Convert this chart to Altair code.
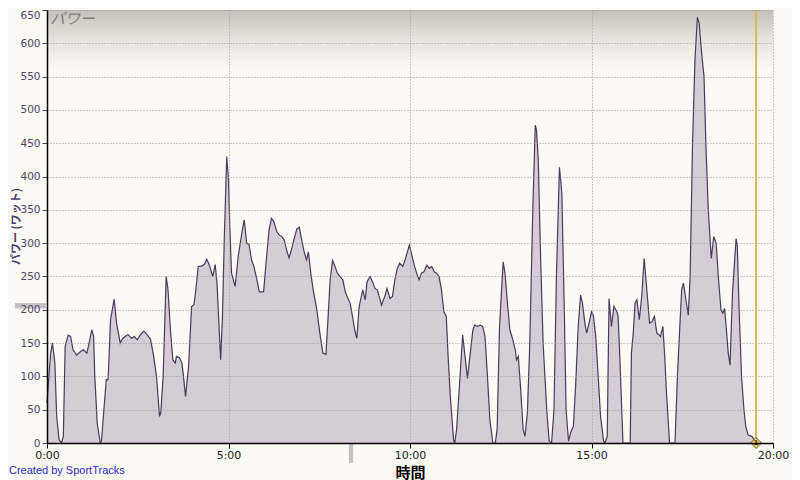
import altair as alt
import pandas as pd

# elapsed time (seconds) and power (watts)
time_s = [
    0, 6, 9, 13, 16, 20, 24, 27, 30, 35,
    39, 43, 49, 55, 60, 66, 70, 74, 77, 79,
    83, 88, 90, 94, 98, 101, 105, 111, 115, 121,
    125, 129, 134, 140, 144, 149, 154, 160, 166, 171,
    176, 181, 186, 188, 192, 197, 200, 204, 208, 212,
    214, 219, 223, 225, 229, 234, 239, 243, 246, 250,
    256, 260, 264, 268, 274, 278, 281, 287, 290, 293,
    297, 300, 302, 305, 311, 316, 322, 326, 330, 334,
    338, 342, 347, 351, 358, 363, 367, 371, 375, 380,
    384, 388, 392, 396, 400, 404, 408, 413, 417, 421,
    425, 429, 432, 436, 440, 446, 451, 456, 461, 465,
    468, 472, 476, 480, 484, 489, 493, 496, 501, 505,
    509, 512, 516, 522, 526, 529, 534, 538, 542, 546,
    553, 559, 562, 567, 571, 575, 579, 583, 588, 592,
    595, 599, 603, 607, 611, 615, 619, 623, 628, 632,
    636, 640, 644, 648, 652, 656, 660, 663, 667, 672,
    674, 677, 682, 687, 691, 695, 699, 704, 707, 711,
    716, 720, 724, 728, 732, 737, 741, 744, 748, 752,
    754, 757, 761, 765, 770, 774, 776, 779, 783, 787,
    790, 794, 798, 803, 807, 809, 812, 816, 820, 826,
    830, 834, 838, 842, 847, 851, 855, 858, 862, 866,
    870, 874, 878, 882, 885, 889, 892, 896, 900, 903,
    907, 911, 915, 920, 922, 926, 929, 933, 937, 942,
    944, 947, 950, 952, 964, 966, 969, 972, 975, 979,
    983, 987, 991, 996, 1000, 1004, 1008, 1012, 1014, 1018,
    1021, 1024, 1029, 1038, 1042, 1046, 1049, 1052, 1056, 1060,
    1063, 1067, 1071, 1075, 1078, 1082, 1086, 1089, 1093, 1098,
    1102, 1106, 1110, 1114, 1117, 1120, 1123, 1126, 1129, 1133,
    1139, 1141, 1144, 1148, 1152, 1155, 1159, 1165, 1169, 1172,
]
power_w = [
    60, 135, 150, 120, 40, 5, 0, 10, 145, 162,
    160, 140, 132, 137, 140, 135, 152, 170, 160, 100,
    30, 0, 3, 50, 95, 95, 185, 216, 180, 150,
    157, 160, 163, 157, 160, 155, 162, 168, 162, 156,
    132, 100, 40, 45, 100, 250, 230, 170, 125, 120,
    130, 128, 120, 105, 70, 115, 205, 208, 230, 265,
    266, 268, 276, 268, 250, 268, 240, 125, 190, 305,
    430, 395, 330, 255, 235, 280, 315, 335, 300, 298,
    275, 265, 245, 227, 227, 280, 320, 337, 332, 317,
    312, 310, 305, 290, 278, 290, 305, 321, 324, 305,
    287, 275, 287, 255, 230, 200, 165, 135, 133, 195,
    245, 274, 265, 255, 250, 245, 227, 220, 210, 190,
    168, 157, 205, 230, 215, 242, 250, 242, 232, 230,
    207, 222, 232, 217, 220, 245, 262, 270, 265, 275,
    285, 297, 282, 267, 255, 245, 255, 257, 267, 262,
    265, 257, 255, 250, 230, 197, 190, 130, 65, 5,
    0, 20, 90, 162, 130, 97, 130, 170, 177, 175,
    177, 175, 160, 100, 35, 0, 0, 20, 175, 240,
    272, 255, 210, 170, 155, 140, 125, 130, 80, 20,
    10, 45, 150, 350, 477, 470, 425, 275, 150, 50,
    3, 0, 50, 250, 414, 375, 200, 50, 3, 17,
    25, 90, 175, 222, 210, 180, 165, 180, 197, 192,
    160, 100, 40, 3, 0, 10, 217, 175, 205, 197,
    190, 125, 50, 0, 0, 135, 165, 210, 215, 185,
    220, 277, 235, 180, 182, 190, 165, 162, 160, 175,
    130, 75, 0, 0, 100, 175, 230, 240, 215, 192,
    250, 450, 575, 639, 630, 585, 550, 450, 350, 277,
    310, 300, 245, 200, 195, 202, 170, 135, 117, 225,
    307, 295, 200, 100, 50, 25, 12, 10, 5, 0,
]
x_ticks = [0, 300, 600, 900, 1200]
y_ticks = [0, 50, 100, 150, 200, 250, 300, 350, 400, 450, 500, 550, 600, 650]
marker_time_s = [1172]
marker_label = ["1"]
avg_power_lo_hi = [202, 210]
avg_time_lo_hi = [499, 506]

W, H = 726, 433
BG = "#fbfaf4"

df = pd.DataFrame({"t": time_s, "p": power_w})
x_scale = alt.Scale(domain=[0, 1200], nice=False, zero=False)
y_scale = alt.Scale(domain=[0, 650], nice=False)

x_axis = alt.Axis(
    values=x_ticks, labelExpr="floor(datum.value/60) + ':00'",
    title="時間", titleFont="Noto Sans CJK JP", titleFontSize=15,
    titleFontWeight="bold", titleColor="#000000",
    titleY=29, titleBaseline="middle",
    labelFont="DejaVu Sans", labelFontSize=11, labelColor="#222222",
    labelPadding=1, tickColor="#000000", tickSize=5, domainColor="#000000",
    domainWidth=1.5, gridColor="#9a9a9a", gridDash=[1, 2], zindex=1,
    labelFlush=False, labelOverlap=False,
)
y_axis = alt.Axis(
    values=y_ticks, title="パワー (ワット)",
    titleFont="Noto Sans CJK JP", titleFontSize=11, titleFontWeight="bold",
    titleColor="#4b3a6a", titleX=-31, titleY=216, titleAngle=-90,
    titleBaseline="middle", titleAlign="center",
    labelFont="DejaVu Sans", labelFontSize=10.5, labelColor="#4e4468",
    labelBaseline=alt.condition("datum.value == 650", alt.value("top"), alt.value("middle")),
    labelPadding=2, tickColor="#4e4468", tickSize=5, domainColor="#000000",
    domainWidth=1.5, gridColor="#9a9a9a", gridDash=[1, 2], zindex=1,
    labelFlush=False, labelOverlap=False,
)

one = pd.DataFrame({"a": [0]})

grad = alt.Chart(one).mark_rect(
    color=alt.Gradient(
        gradient="linear",
        stops=[alt.GradientStop(color="#c4c0b8", offset=0),
               alt.GradientStop(color="#e4e1da", offset=0.45),
               alt.GradientStop(color=BG, offset=1)],
        x1=0, x2=0, y1=0, y2=1,
    )
).encode(x=alt.value(0), x2=alt.value(W), y=alt.value(0), y2=alt.value(60))

X = lambda f: alt.X(f, scale=x_scale, axis=x_axis)
Y = lambda f: alt.Y(f, scale=y_scale, axis=y_axis)

area = alt.Chart(df).mark_area(
    color="#d6ccd7", opacity=1,
    line={"color": "#4a3a5c", "strokeWidth": 1.2},
).encode(x=X("t:Q"), y=Y("p:Q"))

mk = pd.DataFrame({"t": marker_time_s, "p": [0], "lab": marker_label})
rule = alt.Chart(mk).mark_rule(color="#d9bb4c", strokeWidth=2).encode(x=X("t:Q"))
diamond = alt.Chart(mk).mark_point(
    shape="diamond", filled=True, size=120, color="#f2d35c",
    stroke="#6e5d1e", strokeWidth=1, opacity=1,
).encode(x=X("t:Q"), y=Y("p:Q"))
dlab = alt.Chart(mk).mark_text(
    fontSize=7, fontWeight="bold", color="#333333", font="DejaVu Sans",
    baseline="middle", align="center",
).encode(x=X("t:Q"), y=Y("p:Q"), text="lab:N")

ybar = alt.Chart(pd.DataFrame({"lo": [avg_power_lo_hi[0]], "hi": [avg_power_lo_hi[1]]})).mark_rect(
    color="#c4c0c6").encode(y=Y("lo:Q"), y2="hi:Q", x=alt.value(-32), x2=alt.value(-1))
xbar = alt.Chart(pd.DataFrame({"lo": [avg_time_lo_hi[0]], "hi": [avg_time_lo_hi[1]]})).mark_rect(
    color="#c4c0c6").encode(x=X("lo:Q"), x2="hi:Q", y=alt.value(H + 1), y2=alt.value(H + 20))

title_txt = alt.Chart(one).mark_text(
    text="パワー", font="Noto Sans CJK JP", fontSize=15, fontStyle="italic",
    color="#7e7e7e", align="left", baseline="top",
).encode(x=alt.value(3), y=alt.value(2))

credit = alt.Chart(one).mark_text(
    text="Created by SportTracks", font="Liberation Sans", fontSize=11,
    color="#2b2bc8", align="left", baseline="middle",
).encode(x=alt.value(-38), y=alt.value(H + 28))

chart = alt.layer(
    grad, area, rule, ybar, xbar, diamond, dlab, title_txt, credit
).properties(
    width=W, height=H, background=BG,
    autosize=alt.AutoSizeParams(type="none"),
    padding={"left": 39, "top": 2, "right": 19, "bottom": 38},
).configure_view(stroke=None, fill=BG)

chart.save("out.html", embed_options={"renderer": "svg", "actions": False})
